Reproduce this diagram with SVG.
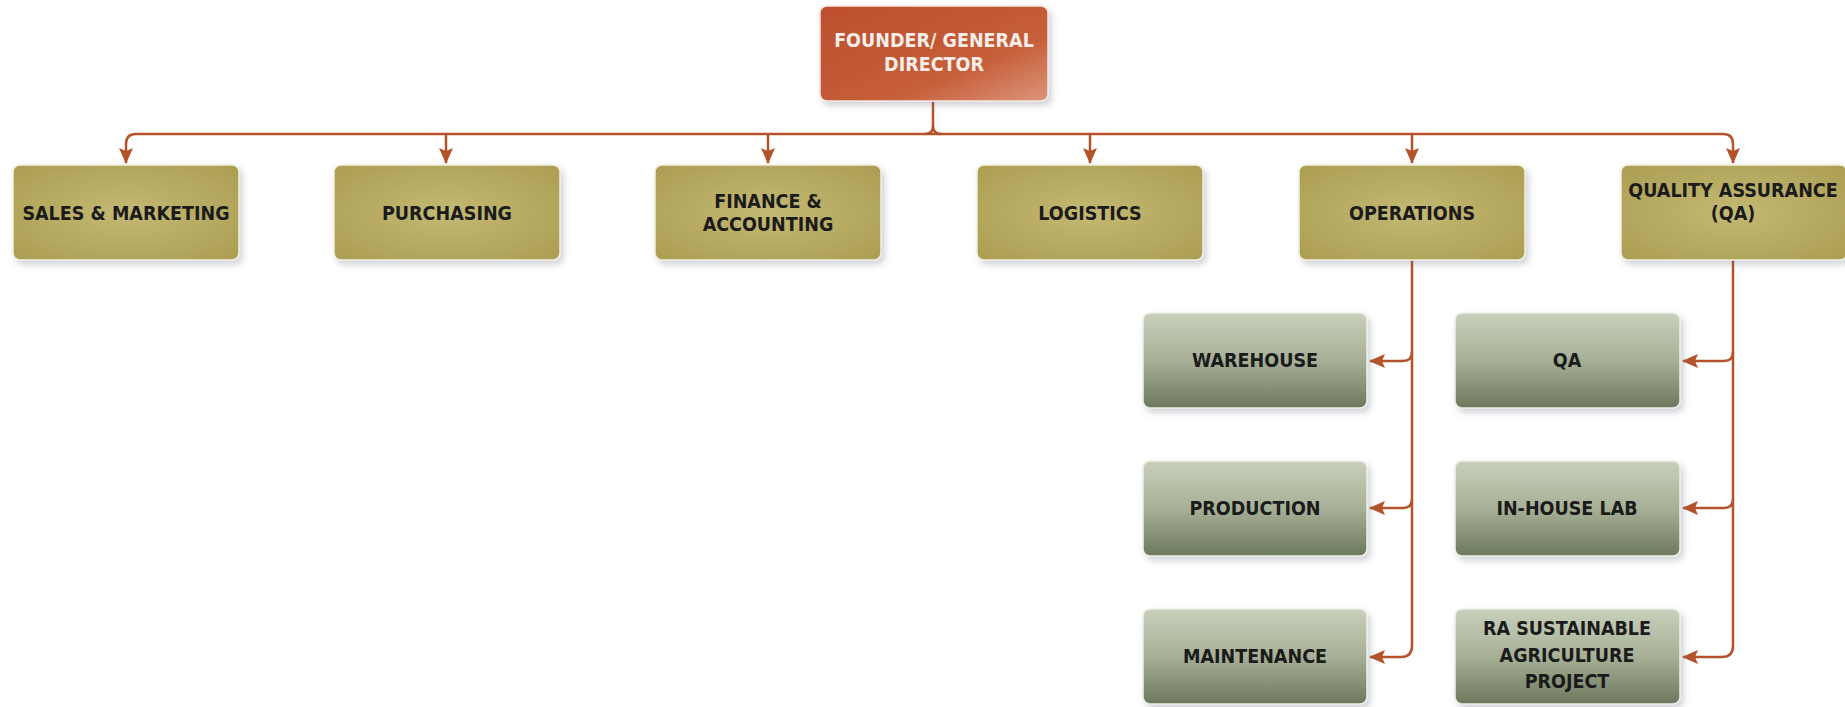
<svg xmlns="http://www.w3.org/2000/svg" width="1845" height="707" viewBox="0 0 1845 707">
<defs>
<linearGradient id="gTop" x1="0" y1="0" x2="1" y2="1">
<stop offset="0" stop-color="#bd4f2c"/>
<stop offset="0.65" stop-color="#c65e3a"/>
<stop offset="1" stop-color="#dc957a"/>
</linearGradient>
<radialGradient id="gOlive" cx="0.5" cy="0.5" r="0.7">
<stop offset="0" stop-color="#c4b973"/>
<stop offset="1" stop-color="#ab9d52"/>
</radialGradient>
<linearGradient id="gSub" x1="0" y1="0" x2="0" y2="1">
<stop offset="0" stop-color="#c8d0bb"/>
<stop offset="0.5" stop-color="#a7b096"/>
<stop offset="1" stop-color="#6c785d"/>
</linearGradient>
<filter id="sh" x="-10%" y="-10%" width="125%" height="135%">
<feDropShadow dx="3" dy="4" stdDeviation="3" flood-color="#6a6f80" flood-opacity="0.3"/>
</filter>
<marker id="ah" markerUnits="userSpaceOnUse" markerWidth="16" markerHeight="14" refX="15" refY="7" orient="auto">
<path d="M0,0 L16,7 L0,14 L3,7 Z" fill="#b4532b"/>
</marker>
</defs>
<style>
.top{fill:url(#gTop);filter:url(#sh);stroke:#f4e8e2;stroke-width:1.5}
.l1{fill:url(#gOlive);filter:url(#sh);stroke:#f2efe0;stroke-width:1.5}
.sub{fill:url(#gSub);filter:url(#sh);stroke:#eef0e8;stroke-width:1.5}
text{font-family:"DejaVu Sans Condensed","DejaVu Sans",sans-serif;font-weight:bold;font-size:19.5px;text-anchor:middle;fill:#1b1b1b}
.wt{fill:#f7eee9}
.c{fill:none;stroke:#b4532b;stroke-width:2.5}
</style>
<g id="connectors">
<path class="c" d="M933,101 L933,126 Q933,134 925,134"/>
<path class="c" d="M933,126 Q933,134 941,134"/>
<path class="c" d="M136,134 L1723,134"/>
<path class="c" d="M136,134 Q126,134 126,144 L126,163" marker-end="url(#ah)"/>
<path class="c" d="M1723,134 Q1733,134 1733,144 L1733,163" marker-end="url(#ah)"/>
<path class="c" d="M446,134 L446,163" marker-end="url(#ah)"/>
<path class="c" d="M768,134 L768,163" marker-end="url(#ah)"/>
<path class="c" d="M1090,134 L1090,163" marker-end="url(#ah)"/>
<path class="c" d="M1412,134 L1412,163" marker-end="url(#ah)"/>
<path class="c" d="M1412,260 L1412,646 Q1412,657 1401,657 L1370,657" marker-end="url(#ah)"/>
<path class="c" d="M1412,352 Q1412,361 1403,361 L1370,361" marker-end="url(#ah)"/>
<path class="c" d="M1412,499 Q1412,508 1403,508 L1370,508" marker-end="url(#ah)"/>
<path class="c" d="M1733,260 L1733,646 Q1733,657 1722,657 L1683,657" marker-end="url(#ah)"/>
<path class="c" d="M1733,352 Q1733,361 1724,361 L1683,361" marker-end="url(#ah)"/>
<path class="c" d="M1733,499 Q1733,508 1724,508 L1683,508" marker-end="url(#ah)"/>
</g>
<g id="founder"><rect class="top" x="820" y="6" width="228" height="95" rx="7"/><text class="wt" x="934" y="47">FOUNDER/ GENERAL</text><text class="wt" x="934" y="71">DIRECTOR</text></g>
<g id="sales"><rect class="l1" x="13" y="165" width="226" height="95" rx="7"/><text x="126" y="220">SALES &amp; MARKETING</text></g>
<g id="purchasing"><rect class="l1" x="334" y="165" width="226" height="95" rx="7"/><text x="447" y="220">PURCHASING</text></g>
<g id="finance"><rect class="l1" x="655" y="165" width="226" height="95" rx="7"/><text x="768" y="208">FINANCE &amp;</text><text x="768" y="231">ACCOUNTING</text></g>
<g id="logistics"><rect class="l1" x="977" y="165" width="226" height="95" rx="7"/><text x="1090" y="220">LOGISTICS</text></g>
<g id="operations"><rect class="l1" x="1299" y="165" width="226" height="95" rx="7"/><text x="1412" y="220">OPERATIONS</text></g>
<g id="qa-dept"><rect class="l1" x="1621" y="165" width="226" height="95" rx="7"/><text x="1733" y="197">QUALITY ASSURANCE</text><text x="1733" y="220">(QA)</text></g>
<g id="warehouse"><rect class="sub" x="1143" y="313" width="224" height="95" rx="7"/><text x="1255" y="367">WAREHOUSE</text></g>
<g id="production"><rect class="sub" x="1143" y="461" width="224" height="95" rx="7"/><text x="1255" y="515">PRODUCTION</text></g>
<g id="maintenance"><rect class="sub" x="1143" y="609" width="224" height="95" rx="7"/><text x="1255" y="663">MAINTENANCE</text></g>
<g id="qa"><rect class="sub" x="1455" y="313" width="225" height="95" rx="7"/><text x="1567" y="367">QA</text></g>
<g id="lab"><rect class="sub" x="1455" y="461" width="225" height="95" rx="7"/><text x="1567" y="515">IN-HOUSE LAB</text></g>
<g id="ra"><rect class="sub" x="1455" y="609" width="225" height="95" rx="7"/><text x="1567" y="635">RA SUSTAINABLE</text><text x="1567" y="662">AGRICULTURE</text><text x="1567" y="688">PROJECT</text></g>
</svg>
